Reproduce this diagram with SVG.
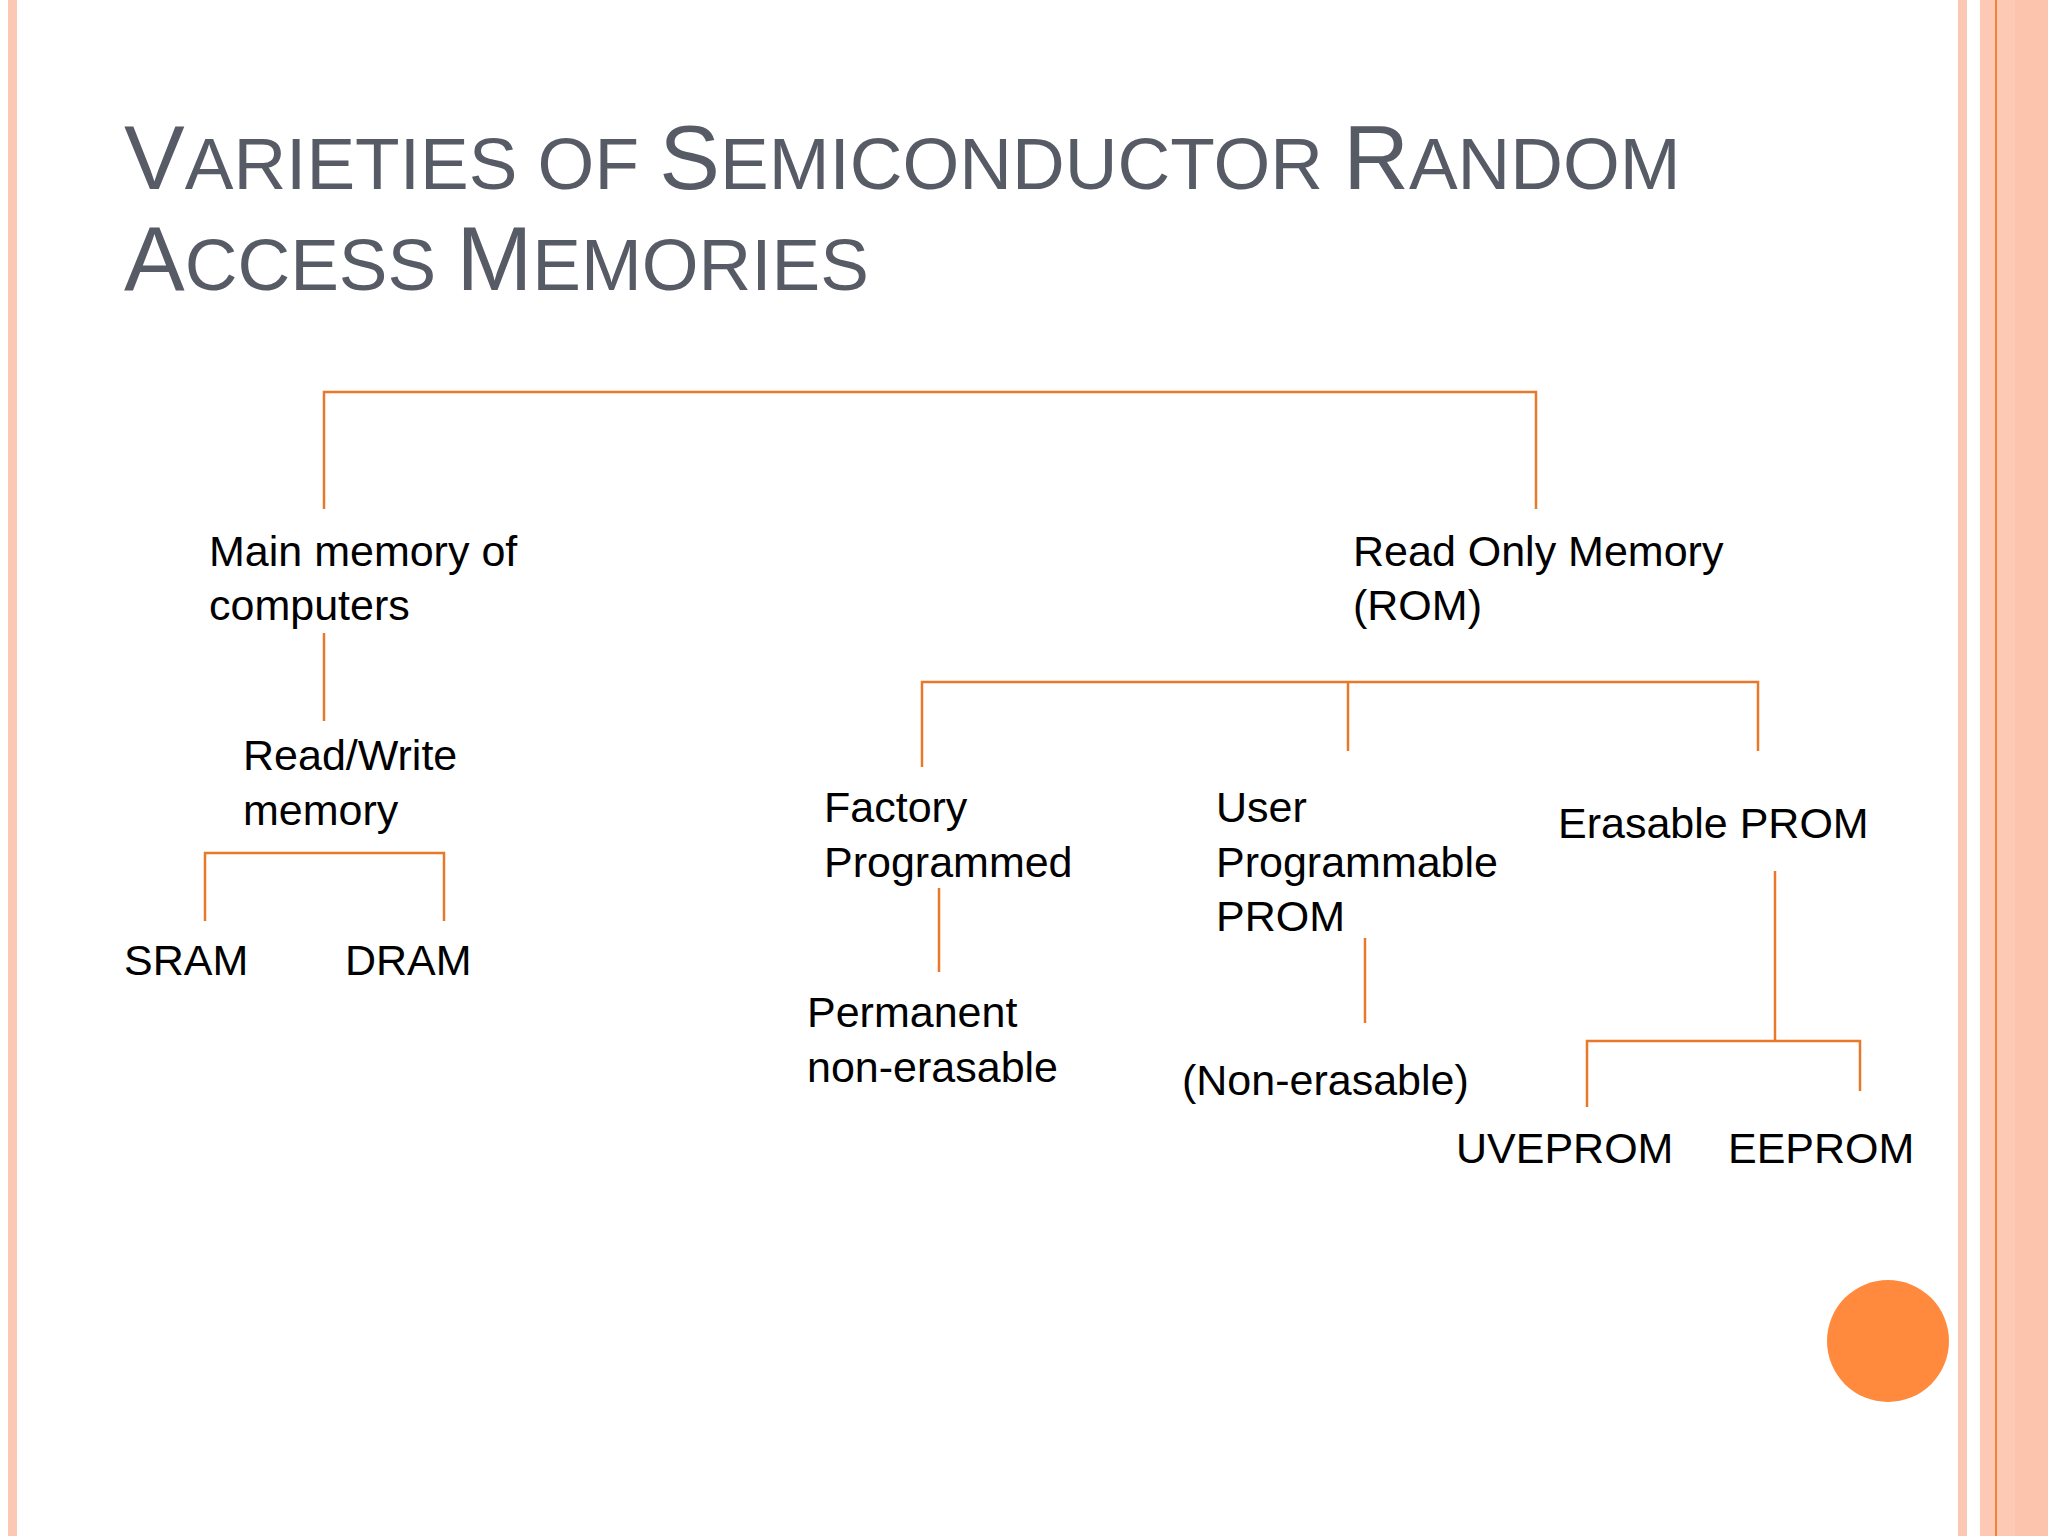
<svg xmlns="http://www.w3.org/2000/svg" width="2048" height="1536" viewBox="0 0 2048 1536">
<style>
.t{font-family:"Liberation Sans",Arial,sans-serif;font-size:43px;fill:#000}
.h{font-family:"Liberation Sans",Arial,sans-serif;fill:#575b66}
.c{stroke:#e8782a;stroke-width:2.5;fill:none}
</style>
<rect width="2048" height="1536" fill="#fff"/>
<rect x="8" y="0" width="9" height="1536" fill="#fcc8b4"/>
<rect x="1958" y="0" width="9" height="1536" fill="#fcc8b4"/>
<rect x="1980" y="0" width="68" height="1536" fill="#fdc8b4"/>
<rect x="2015" y="0" width="33" height="1536" fill="#fcc3ad"/>
<line x1="1996" y1="0" x2="1996" y2="1536" stroke="#f0843c" stroke-width="2"/>
<g id="title" class="h">
<text x="124" y="189" font-size="91">V<tspan font-size="73">ARIETIES OF </tspan>S<tspan font-size="73">EMICONDUCTOR </tspan>R<tspan font-size="73">ANDOM</tspan></text>
<text x="124" y="290" font-size="91">A<tspan font-size="73">CCESS </tspan>M<tspan font-size="73">EMORIES</tspan></text>
</g>
<g id="connectors" class="c">
<polyline points="324,509 324,392 1536,392 1536,509"/>
<line x1="324" y1="633" x2="324" y2="721"/>
<polyline points="205,921 205,853 444,853 444,921"/>
<polyline points="922,767 922,682 1758,682 1758,751"/>
<line x1="1348" y1="682" x2="1348" y2="751"/>
<line x1="939" y1="888" x2="939" y2="972"/>
<line x1="1365" y1="938" x2="1365" y2="1023"/>
<line x1="1775" y1="871" x2="1775" y2="1041"/>
<polyline points="1587,1107 1587,1041 1860,1041 1860,1091"/>
</g>
<g id="main"><text class="t" x="209" y="566">Main memory of</text><text class="t" x="209" y="620">computers</text></g>
<g id="rw"><text class="t" x="243" y="770">Read/Write</text><text class="t" x="243" y="825">memory</text></g>
<g id="sram"><text class="t" x="124" y="975">SRAM</text></g>
<g id="dram"><text class="t" x="345" y="975">DRAM</text></g>
<g id="rom"><text class="t" x="1353" y="566">Read Only Memory</text><text class="t" x="1353" y="620">(ROM)</text></g>
<g id="factory"><text class="t" x="824" y="822">Factory</text><text class="t" x="824" y="877">Programmed</text></g>
<g id="perm"><text class="t" x="807" y="1027">Permanent</text><text class="t" x="807" y="1082">non-erasable</text></g>
<g id="user"><text class="t" x="1216" y="822">User</text><text class="t" x="1216" y="877">Programmable</text><text class="t" x="1216" y="931">PROM</text></g>
<g id="nonerase"><text class="t" x="1182" y="1095">(Non-erasable)</text></g>
<g id="eprom"><text class="t" x="1558" y="838">Erasable PROM</text></g>
<g id="uv"><text class="t" x="1456" y="1163">UVEPROM</text></g>
<g id="ee"><text class="t" x="1728" y="1163">EEPROM</text></g>
<circle cx="1888" cy="1341" r="61" fill="#ff8a3d"/>
</svg>
